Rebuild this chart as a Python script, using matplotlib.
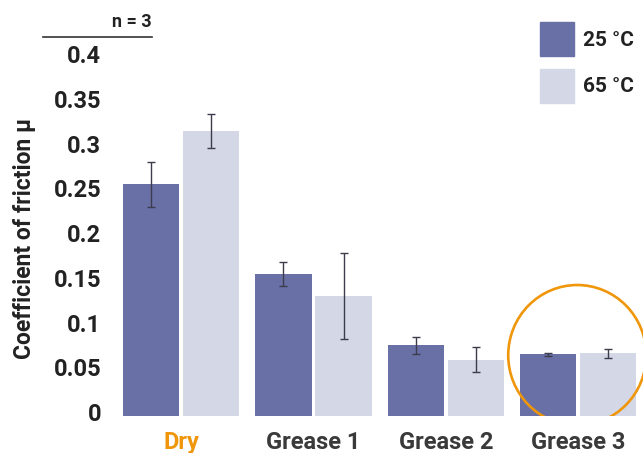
import numpy as np
import matplotlib
matplotlib.use('Agg')
import matplotlib.pyplot as plt
import matplotlib.transforms as mtransforms
from matplotlib.patches import Ellipse, Rectangle
from matplotlib.lines import Line2D

# data
categories = ['Dry', 'Grease 1', 'Grease 2', 'Grease 3']
mu_25 = [0.259, 0.159, 0.079, 0.069]
err_25 = [0.025, 0.0135, 0.0095, 0.002]
mu_65 = [0.319, 0.134, 0.063, 0.070]
err_65 = [0.019, 0.048, 0.014, 0.005]
yticks = [0, 0.05, 0.1, 0.15, 0.2, 0.25, 0.3, 0.35, 0.4]
ytick_labels = ['0', '0.05', '0.1', '0.15', '0.2', '0.25', '0.3', '0.35', '0.4']
series_labels = ['25 °C', '65 °C']

dark = '#6870a6'
light = '#d3d7e6'
orange = '#f0960a'

plt.rcParams['font.family'] = ['Roboto', 'DejaVu Sans']
plt.rcParams['font.weight'] = 'bold'

W, H = 643, 453
fig = plt.figure(figsize=(W / 100, H / 100), dpi=100)
ax = fig.add_axes([115 / W, 1 - 416 / H, 528 / W, 380 / H])

ind = np.arange(len(categories))
width = 0.424
off = 0.227
ekw = dict(ecolor='#3c3c4c', elinewidth=1, capsize=3, capthick=1)
ax.bar(ind - off, mu_25, width, color=dark, yerr=err_25, error_kw=ekw)
ax.bar(ind + off, mu_65, width, color=light, yerr=err_65, error_kw=ekw)

ax.set_xlim(-0.5, 3.49)
ax.set_ylim(0, 0.425)
ax.set_xticks(ind)
ax.set_xticklabels(categories, fontsize=17, fontweight='bold', color='#3a3a3a')
ax.get_xticklabels()[0].set_color(orange)
ax.set_yticks(yticks)
ax.set_yticklabels(ytick_labels, fontsize=17, fontweight='bold', color='#222222')
ax.tick_params(axis='both', length=0)
ax.tick_params(axis='y', pad=10)
ax.tick_params(axis='x', pad=11)
shift = mtransforms.ScaledTranslation(0, 4 / 100, fig.dpi_scale_trans)
for lab in ax.get_yticklabels():
    lab.set_transform(lab.get_transform() + shift)
for s in ax.spines.values():
    s.set_visible(False)

# highlight circle around grease 3
ax.add_patch(Ellipse((2.993, 0.068), 1.043, 0.157, fill=False,
                     edgecolor=orange, linewidth=1.9))

fig.text(25 / W, 1 - 238 / H, 'Coefficient of friction µ', rotation=90,
         ha='center', va='center', fontsize=16.5, fontweight='bold', color='#222222')

# n = 3 note with line
fig.add_artist(Line2D([43 / W, 152 / W], [1 - 37 / H, 1 - 37 / H],
                      color='#333333', linewidth=1.2))
fig.text(152 / W, 1 - 22 / H, 'n = 3', ha='right', va='center',
         fontsize=13, fontweight='bold', color='#222222')

# legend drawn as squares + text
for i, (c, lab) in enumerate(zip([dark, light], series_labels)):
    top = 22 + i * 47
    fig.add_artist(Rectangle((540 / W, 1 - (top + 34) / H), 34 / W, 34 / H,
                             color=c, transform=fig.transFigure))
    fig.text(583 / W, 1 - (top + 18) / H, lab, ha='left', va='center',
             fontsize=15, fontweight='bold', color='#222222')

fig.savefig('out.png', dpi=100)
